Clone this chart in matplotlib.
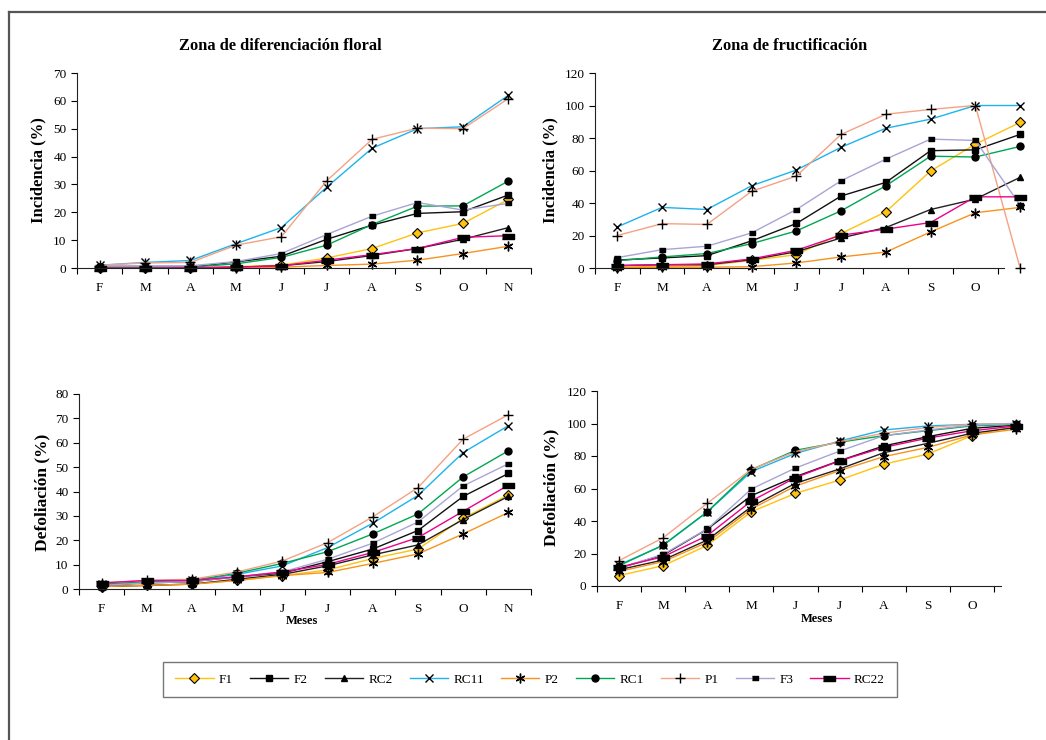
import matplotlib

matplotlib.use("Agg")
import matplotlib.pyplot as plt
from matplotlib.lines import Line2D

plt.rcParams["font.family"] = ["Liberation Serif", "DejaVu Serif"]

MONTHS = ["F", "M", "A", "M", "J", "J", "A", "S", "O", "N"]
SERIES = ["F1", "F2", "RC2", "RC11", "P2", "RC1", "P1", "F3", "RC22"]

# Incidencia, zona de diferenciación floral
inc_floral = {
    "F1": [0, 0, 0, 0.5, 1, 3.6, 7, 12.6, 16, 24.6],
    "F2": [0.2, 0.2, 0.3, 2.2, 4.2, 10.3, 15.4, 19.6, 20.2, 26.2],
    "RC2": [0, 0, 0, 0.3, 0.8, 2.3, 4.5, 7, 10.3, 14.5],
    "RC11": [1, 2, 2.7, 8.7, 14.5, 29, 43, 50, 50.7, 62],
    "P2": [0, 0, 0, 0, 0.3, 0.9, 1.4, 2.8, 5.2, 7.8],
    "RC1": [0.3, 0.3, 0.3, 1.5, 3.8, 8.2, 15.6, 22.2, 22.3, 31.2],
    "P1": [1, 1.8, 2, 8.2, 11.2, 31.3, 46.2, 50.2, 50, 60.8],
    "F3": [0.8, 0.8, 0.8, 2.3, 5.2, 12, 18.6, 23.5, 20.8, 23.2],
    "RC22": [0, 0, 0.1, 0.3, 0.8, 2.8, 4.8, 7, 11, 11.6],
}

# Incidencia, zona de fructificación
inc_fruct = {
    "F1": [0.5, 1, 1.5, 4.7, 8.2, 21.2, 34.6, 59.7, 76.2, 89.6],
    "F2": [4.9, 6.2, 7.6, 16.7, 27.4, 44.3, 52.7, 72.2, 72.7, 82.2],
    "RC2": [1.5, 2, 2, 5.1, 10, 18.5, 24.9, 36, 42.4, 55.8],
    "RC11": [25.3, 37.3, 36, 50.6, 60.3, 74.3, 86, 91.6, 100, 100],
    "P2": [0.3, 0.5, 0.5, 0.8, 3.1, 6.8, 9.8, 22.2, 34, 37.3],
    "RC1": [4.5, 6.8, 8.9, 15, 22.8, 35.2, 50.6, 68.8, 68.3, 74.8],
    "P1": [20, 27.3, 26.8, 47.2, 56.6, 82.2, 94.6, 97.6, 100, 0],
    "F3": [6.4, 11.3, 13.4, 21.6, 36, 53.7, 67, 79.3, 78.5, 38.7],
    "RC22": [1.5, 2, 2.5, 5.6, 10.9, 20.2, 23.9, 28, 43.8, 43.8],
}

# Defoliación, zona de diferenciación floral
def_floral = {
    "F1": [1, 1.5, 2, 3.5, 5.5, 7.8, 12.5, 16.4, 29, 38.6],
    "F2": [1.5, 2.5, 3, 5, 6.5, 11.2, 16.4, 24, 38, 47.4],
    "RC2": [1, 1.5, 2, 4, 6, 9.5, 14, 18.1, 28.5, 38],
    "RC11": [2, 3, 3.5, 6, 9.5, 17, 27, 38.4, 56, 67],
    "P2": [1, 1.5, 2, 3.5, 5.5, 6.8, 10.5, 14.4, 22.6, 31.4],
    "RC1": [2, 3, 3.5, 6.5, 10.5, 15.3, 22.6, 30.8, 46, 56.7],
    "P1": [2.5, 3.5, 4, 7, 11.5, 19, 29.6, 41.6, 61.5, 71.5],
    "F3": [1.5, 2.5, 3, 5, 7, 12.2, 18.8, 27.5, 42.3, 51.4],
    "RC22": [2.5, 3.5, 3.5, 5, 7, 10.1, 15, 21.1, 31.9, 42.6],
}

# Defoliación, zona de fructificación
def_fruct = {
    "F1": [6.4, 12.5, 25, 45.7, 57, 65.2, 74.9, 81.2, 92.5, 98.5],
    "F2": [11, 19, 35, 55.6, 67.3, 77.1, 86.2, 91.9, 97, 99],
    "RC2": [10, 16, 28.3, 48.8, 63.2, 72, 82, 87.8, 94, 97.5],
    "RC11": [13, 25, 45.5, 70.4, 81.6, 89.2, 96, 98.5, 99.5, 100],
    "P2": [9, 15, 26.9, 47.4, 61.5, 71, 79.6, 85.3, 93, 96.5],
    "RC1": [12.5, 25.2, 45.7, 71.6, 83.5, 88.5, 92.5, 95.6, 98.5, 99.5],
    "P1": [15.6, 29.7, 50.9, 71.8, 82.7, 88.8, 94, 97.6, 99.5, 100],
    "F3": [11, 19.5, 35.1, 59.7, 72.6, 83, 92.5, 96, 99, 100],
    "RC22": [11.5, 18, 31, 52.3, 66.7, 77, 85.3, 91, 95.5, 98.5],
}

small_rect = [(-1, -0.55), (1, -0.55), (1, 0.55), (-1, 0.55)]
wide_rect = [(-1, -0.45), (1, -0.45), (1, 0.45), (-1, 0.45)]

STYLE = {
    "F1": dict(color="#FFC20E", marker="D", ms=5, mfc="#FFC20E", mec="black", mew=0.8),
    "F2": dict(color="#111111", marker="s", ms=5, mfc="black", mec="black"),
    "RC2": dict(color="#222222", marker="^", ms=5, mfc="black", mec="black"),
    "RC11": dict(color="#1DB3EC", marker="x", ms=6, mfc="black", mec="black", mew=1.0),
    "P2": dict(color="#F7931E", marker=(6, 2, 0), ms=7, mfc="black", mec="black", mew=1.0),
    "RC1": dict(color="#00A651", marker="o", ms=5, mfc="black", mec="black"),
    "P1": dict(color="#F4A283", marker="+", ms=7, mfc="black", mec="black", mew=1.0),
    "F3": dict(color="#A9A4D6", marker=small_rect, ms=5, mfc="black", mec="black"),
    "RC22": dict(color="#EC008C", marker=wide_rect, ms=8, mfc="black", mec="black"),
}

W, H = 1046, 740


def px_axes(fig, left, right, top, bottom):
    return fig.add_axes([left / W, 1 - bottom / H, (right - left) / W, (bottom - top) / H])


def style_axes(ax, data, ymax, ystep, n_labels, xmax):
    x = list(range(len(MONTHS)))
    for name in SERIES:
        ax.plot(x, data[name], lw=1.0, clip_on=False, label=name, **STYLE[name])
    ax.set_xlim(-0.5, xmax)
    ax.set_ylim(0, ymax)
    ax.set_yticks(range(0, ymax + 1, ystep))
    ax.set_xticks(range(n_labels))
    ax.set_xticklabels(MONTHS[:n_labels])
    ax.set_xticks([i - 0.5 for i in range(n_labels + 1) if i - 0.5 <= xmax], minor=True)
    ax.tick_params(axis="x", which="major", length=0, pad=10, labelsize=9.5)
    ax.tick_params(axis="x", which="minor", length=4, width=0.8, direction="out")
    ax.tick_params(axis="y", length=4, width=0.8, direction="out", labelsize=9.5)
    for side in ("top", "right"):
        ax.spines[side].set_visible(False)
    for side in ("left", "bottom"):
        ax.spines[side].set_linewidth(0.8)
        ax.spines[side].set_color("#222222")


fig = plt.figure(figsize=(W / 100, H / 100), dpi=100)

ax_tl = px_axes(fig, 77, 531, 73, 268)
style_axes(ax_tl, inc_floral, 70, 10, 10, 9.5)
ax_tr = px_axes(fig, 595, 1004, 73, 268)
style_axes(ax_tr, inc_fruct, 120, 20, 9, 8.64)
ax_bl = px_axes(fig, 79, 531, 394, 589)
style_axes(ax_bl, def_floral, 80, 10, 10, 9.5)
ax_br = px_axes(fig, 597, 1001, 391, 586)
style_axes(ax_br, def_fruct, 120, 20, 9, 8.66)

fig.text(280 / W, 1 - 46 / H, "Zona de diferenciación floral", ha="center", va="center",
         fontsize=11.8, fontweight="bold")
fig.text(790 / W, 1 - 46 / H, "Zona de fructificación", ha="center", va="center",
         fontsize=11.8, fontweight="bold")
fig.text(38 / W, 1 - 170 / H, "Incidencia (%)", rotation=90, ha="center", va="center",
         fontsize=12, fontweight="bold")
fig.text(550 / W, 1 - 170 / H, "Incidencia (%)", rotation=90, ha="center", va="center",
         fontsize=12, fontweight="bold")
fig.text(42 / W, 1 - 492 / H, "Defoliación (%)", rotation=90, ha="center", va="center",
         fontsize=12.5, fontweight="bold")
fig.text(551 / W, 1 - 487 / H, "Defoliación (%)", rotation=90, ha="center", va="center",
         fontsize=12.5, fontweight="bold")
fig.text(302 / W, 1 - 621 / H, "Meses", ha="center", va="center", fontsize=9, fontweight="bold")
fig.text(817 / W, 1 - 619 / H, "Meses", ha="center", va="center", fontsize=9, fontweight="bold")

handles, labels = ax_tl.get_legend_handles_labels()
leg = fig.legend(handles, labels, loc="center", bbox_to_anchor=(530 / W, 1 - 679.5 / H),
                 ncol=9, fontsize=9.5, frameon=True, fancybox=False, handlelength=2.9,
                 columnspacing=1.3, handletextpad=0.4, borderpad=0.9)
leg.get_frame().set_edgecolor("#555555")
leg.get_frame().set_linewidth(1.0)

# outer frame of the figure (left and top edges visible)
fig.add_artist(Line2D([9 / W, 9 / W], [0, 1 - 12 / H], transform=fig.transFigure,
                      color="#555555", lw=1.6))
fig.add_artist(Line2D([9 / W, 1], [1 - 12 / H, 1 - 12 / H], transform=fig.transFigure,
                      color="#555555", lw=1.6))

fig.savefig("out.png", dpi=100)
